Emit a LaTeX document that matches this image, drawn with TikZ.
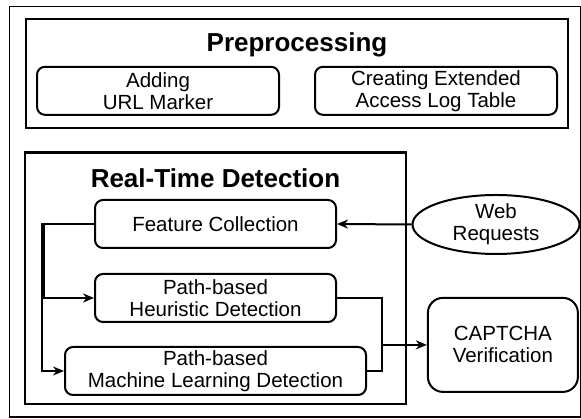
\documentclass[tikz,border=0pt]{standalone}
\usepackage{fontspec}
\setmainfont{Liberation Sans}
\usetikzlibrary{arrows.meta,shapes.geometric}

\tikzset{
  stagebox/.style={draw, line width=2.5pt},
  stepbox/.style={draw, line width=2pt, rounded corners=8pt, inner sep=0pt,
    align=center, minimum height=48pt, font=\fontsize{20.5}{22}\selectfont},
  titletext/.style={anchor=base, font=\fontsize{26}{28}\selectfont\bfseries},
  flow/.style={line width=2pt, -{Stealth[length=11pt,width=9pt,inset=3.5pt]}},
  plainflow/.style={line width=2pt}
}

\begin{document}
\begin{tikzpicture}[x=1pt, y=1pt]
    \useasboundingbox (0,0) rectangle (581,419);

    % outer frame
    \draw[line width=1.5pt] (9.5,412.5) rectangle (580.5,2);

    % preprocessing stage
    \draw[stagebox] (26,400) rectangle (568,291);
    \node[titletext] (pretitle) at (297,367) {Preprocessing};
    \node[stepbox, minimum width=242pt] (url) at (158,328.2) {Adding\\URL Marker};
    \node[stepbox, minimum width=242pt] (logtable) at (436,328.2) {Creating Extended\\Access Log Table};

    % real-time detection stage
    \draw[stagebox] (25,266.3) rectangle (406,15);
    \node[titletext] (rttitle) at (215.5,231) {Real-Time Detection};
    \node[stepbox, minimum width=241pt] (feature) at (215.5,195) {Feature Collection};
    \node[stepbox, minimum width=241pt] (heuristic) at (215.5,121) {Path-based\\Heuristic Detection};
    \node[stepbox, minimum width=301pt] (mldetect) at (215.5,48) {Path-based\\Machine Learning Detection};

    % outside nodes
    \node[draw, ellipse, line width=2pt, inner sep=0pt, minimum width=167pt, minimum height=59pt,
      align=center, font=\fontsize{20.5}{22}\selectfont] (web) at (496,194.5) {Web\\Requests};
    \node[stepbox, rounded corners=15pt, minimum width=150pt, minimum height=94pt] (captcha)
      at (502.9,74.1) {CAPTCHA\\Verification};

    % join points
    \coordinate (split) at (43,195);
    \coordinate (merge) at (381.7,74.1);

    % connectors
    \draw[flow] (web.west) -- (feature.east);
    \draw[flow] (feature.west) -- ([xshift=1pt]split) |- (heuristic.west);
    \draw[flow] (feature.west) -- ([xshift=-1pt]split) |- (mldetect.west);
    \draw[plainflow] (heuristic.east) -| (merge) |- (mldetect.east);
    \draw[flow] (merge) -- (captcha.west);

\end{tikzpicture}
\end{document}
